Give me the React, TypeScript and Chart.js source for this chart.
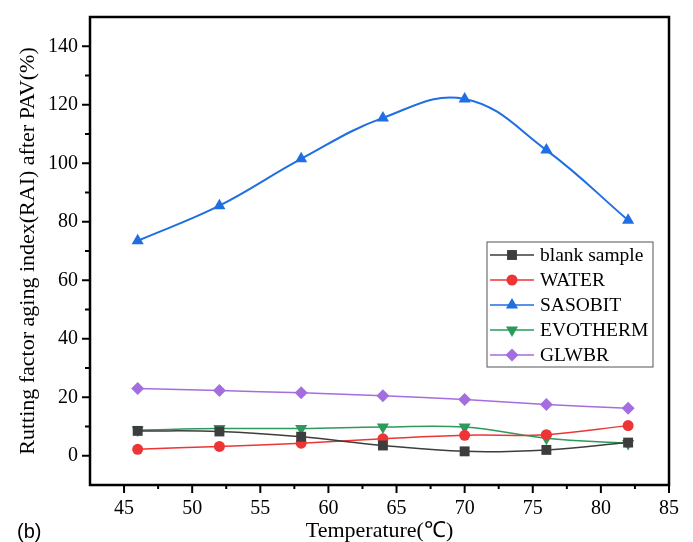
import React, { useEffect, useRef } from "react";
import { Chart, registerables } from "chart.js";

Chart.register(...registerables);

const temperatures = [46, 52, 58, 64, 70, 76, 82];
const blankSample = [8.5, 8.3, 6.5, 3.5, 1.5, 2.0, 4.5];
const water = [2.2, 3.2, 4.3, 5.8, 7.0, 7.2, 10.3];
const sasobit = [73.5, 85.5, 101.5, 115.5, 122.0, 104.5, 80.5];
const evotherm = [8.8, 9.3, 9.3, 9.8, 9.8, 6.0, 4.2];
const glwbr = [23.0, 22.3, 21.5, 20.5, 19.2, 17.5, 16.2];

const xTickValues = [45, 50, 55, 60, 65, 70, 75, 80, 85];
const yTickValues = [0, 20, 40, 60, 80, 100, 120, 140];

const seriesNames = ["blank sample", "WATER", "SASOBIT", "EVOTHERM", "GLWBR"];

const SERIF = "'Liberation Serif', 'Times New Roman', serif";

function drawMarker(ctx: CanvasRenderingContext2D, style: string, rot: number, x: number, y: number, r: number) {
  ctx.beginPath();
  if (style === "rect") {
    const s = Math.SQRT1_2 * r;
    ctx.rect(x - s, y - s, 2 * s, 2 * s);
  } else if (style === "circle") {
    ctx.arc(x, y, r, 0, Math.PI * 2);
  } else if (style === "triangle") {
    const a0 = (rot * Math.PI) / 180 - Math.PI / 2;
    for (let i = 0; i < 3; i++) {
      const a = a0 + (i * 2 * Math.PI) / 3;
      const px = x + Math.cos(a) * r;
      const py = y + Math.sin(a) * r;
      if (i === 0) ctx.moveTo(px, py);
      else ctx.lineTo(px, py);
    }
    ctx.closePath();
  } else if (style === "rectRot") {
    ctx.moveTo(x, y - r);
    ctx.lineTo(x + r, y);
    ctx.lineTo(x, y + r);
    ctx.lineTo(x - r, y);
    ctx.closePath();
  }
  ctx.fill();
}

const framePlugin = {
  id: "framePlugin",
  afterDraw(chart: any) {
    const { ctx, chartArea } = chart;
    const { left, right, top, bottom } = chartArea;
    const xs = chart.scales.x;
    const ys = chart.scales.y;
    ctx.save();
    ctx.strokeStyle = "#000";
    ctx.lineWidth = 2.5;
    ctx.strokeRect(left, top, right - left, bottom - top);
    ctx.lineWidth = 2;
    for (let v = 0; v <= 140; v += 10) {
      const py = ys.getPixelForValue(v);
      const len = v % 20 === 0 ? 8 : 5;
      ctx.beginPath();
      ctx.moveTo(left - len, py);
      ctx.lineTo(left, py);
      ctx.stroke();
    }
    for (let v = 45; v <= 85; v += 2.5) {
      const px = xs.getPixelForValue(v);
      const len = v % 5 === 0 ? 8 : 4;
      ctx.beginPath();
      ctx.moveTo(px, bottom);
      ctx.lineTo(px, bottom + len);
      ctx.stroke();
    }
    const lx = 487, ly = 242, lw = 166, lh = 125;
    ctx.fillStyle = "#fff";
    ctx.fillRect(lx, ly, lw, lh);
    ctx.strokeStyle = "#555";
    ctx.lineWidth = 1;
    ctx.strokeRect(lx, ly, lw, lh);
    chart.data.datasets.forEach((ds: any, i: number) => {
      const cy = 255 + i * 25;
      ctx.strokeStyle = ds.borderColor;
      ctx.lineWidth = 1.5;
      ctx.beginPath();
      ctx.moveTo(490, cy);
      ctx.lineTo(534, cy);
      ctx.stroke();
      ctx.fillStyle = ds.pointBackgroundColor;
      drawMarker(ctx, ds.pointStyle, ds.pointRotation || 0, 512, cy, ds.pointRadius);
      ctx.fillStyle = "#000";
      ctx.font = `19.5px ${SERIF}`;
      ctx.textBaseline = "middle";
      ctx.textAlign = "left";
      ctx.fillText(ds.label, 540, cy + 1);
    });
    ctx.restore();
  },
};

function makeDataset(label: string, data: number[], color: string, style: string, radius: number, rot = 0, width = 1.5) {
  return {
    label,
    data: temperatures.map((t, i) => ({ x: t, y: data[i] })),
    borderColor: color,
    backgroundColor: color,
    pointBackgroundColor: color,
    pointBorderColor: color,
    pointBorderWidth: 0,
    pointStyle: style,
    pointRadius: radius,
    pointRotation: rot,
    borderWidth: width,
    tension: 0.4,
    clip: false as any,
  };
}

export default function App() {
  const ref = useRef<HTMLCanvasElement | null>(null);
  useEffect(() => {
    if (!ref.current) return;
    const chart = new Chart(ref.current, {
      type: "line",
      data: {
        datasets: [
          makeDataset(seriesNames[0], blankSample, "#3d3d3d", "rect", 7, 0, 1.5),
          makeDataset(seriesNames[1], water, "#ee3535", "circle", 5.5, 0, 1.5),
          makeDataset(seriesNames[2], sasobit, "#1f6fe3", "triangle", 7, 0, 2),
          makeDataset(seriesNames[3], evotherm, "#2b9a5c", "triangle", 7, 180, 1.5),
          makeDataset(seriesNames[4], glwbr, "#a56ee0", "rectRot", 6.5, 0, 1.5),
        ] as any,
      },
      options: {
        animation: false,
        responsive: false,
        maintainAspectRatio: false,
        layout: { padding: { top: 17, right: 24, left: 0, bottom: 0 } },
        plugins: { legend: { display: false }, tooltip: { enabled: false } },
        scales: {
          x: {
            type: "linear",
            min: 42.5,
            max: 85,
            afterBuildTicks: (s: any) => {
              s.ticks = xTickValues.map((v) => ({ value: v }));
            },
            afterFit: (s: any) => {
              s.height = 57;
            },
            grid: { display: true, drawOnChartArea: false, drawTicks: true, tickLength: 8, color: "rgba(0,0,0,0)" },
            border: { display: false },
            ticks: { color: "#000", font: { family: SERIF, size: 20 }, padding: 4, maxRotation: 0, autoSkip: false },
            title: {
              display: true,
              text: "Temperature(℃)",
              color: "#000",
              font: { family: SERIF, size: 22, lineHeight: 1.0 },
              padding: { top: 0, bottom: 0 },
            },
          },
          y: {
            type: "linear",
            min: -10,
            max: 150,
            afterBuildTicks: (s: any) => {
              s.ticks = yTickValues.map((v) => ({ value: v }));
            },
            afterFit: (s: any) => {
              s.width = 90;
            },
            grid: { display: true, drawOnChartArea: false, drawTicks: true, tickLength: 8, color: "rgba(0,0,0,0)" },
            border: { display: false },
            ticks: { color: "#000", font: { family: SERIF, size: 20 }, padding: 4, autoSkip: false },
            title: {
              display: true,
              text: "Rutting factor aging index(RAI) after PAV(%)",
              color: "#000",
              font: { family: SERIF, size: 22 },
              padding: { top: 15, bottom: 0 },
            },
          },
        },
      },
      plugins: [framePlugin],
    });
    return () => chart.destroy();
  }, []);
  return (
    <div style={{ position: "fixed", left: 0, top: 0, width: 693, height: 542, background: "#fff" }}>
      <canvas ref={ref} width={693} height={542} style={{ display: "block" }} />
      <div
        style={{
          position: "absolute",
          left: 17,
          top: 520,
          fontFamily: "'Liberation Sans', Arial, sans-serif",
          fontSize: 20,
          lineHeight: "22px",
          color: "#000",
        }}
      >
        (b)
      </div>
    </div>
  );
}
